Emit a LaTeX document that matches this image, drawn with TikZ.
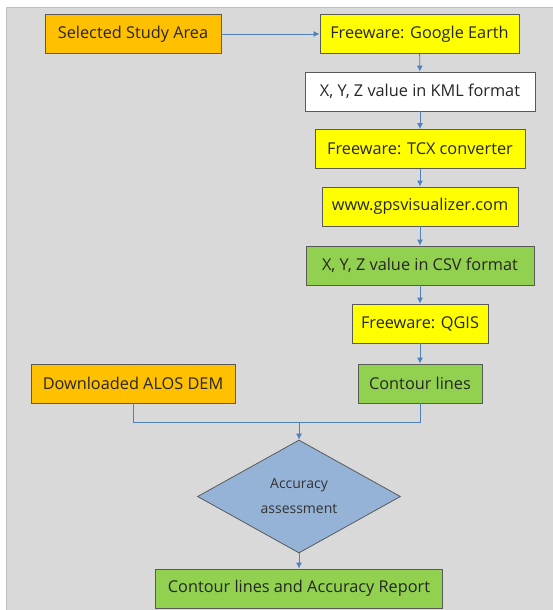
\documentclass[tikz,border=0pt]{standalone}
\usepackage{fontspec}
\setmainfont{Open Sans}
\usepackage{tikz}
\usetikzlibrary{arrows.meta,shapes.geometric}
\definecolor{panelgray}{HTML}{D9D9D9}
\definecolor{panelline}{HTML}{BFBFBF}
\definecolor{boxline}{HTML}{5A5A5A}
\definecolor{srcorange}{HTML}{FFC000}
\definecolor{toolyellow}{HTML}{FFFF00}
\definecolor{outgreen}{HTML}{92D050}
\definecolor{checkblue}{HTML}{95B3D7}
\definecolor{flowblue}{HTML}{4F81BD}
\tikzset{
  box/.style={draw=boxline,line width=0.8pt,align=center,minimum height=39pt,
    inner sep=2pt,text=black!85,font=\fontsize{16.3}{19}\selectfont},
  source/.style={box,fill=srcorange},
  tool/.style={box,fill=toolyellow},
  plain/.style={box,fill=white},
  result/.style={box,fill=outgreen},
  check/.style={diamond,draw=boxline,line width=0.8pt,fill=checkblue,align=center,
    inner sep=0pt,text=black!80,font=\fontsize{14}{25}\selectfont},
  flow/.style={-{Latex[length=6pt,width=6pt]},flowblue,line width=0.9pt}
}
\begin{document}
\begin{tikzpicture}[x=1pt,y=-1pt]
  \useasboundingbox (0,0) rectangle (553,610);
  % Panel
  \draw[panelline,fill=panelgray,line width=1pt] (6,8) rectangle (556,613);
  % Main column
  \node[source,minimum width=176pt] (sel) at (133,34) {Selected Study Area};
  \node[tool,minimum width=199pt] (ge) at (419.5,34) {Freeware: Google Earth};
  \node[plain,minimum width=230pt] (kml) at (420,91.5) {X, Y, Z value in KML format};
  \node[tool,minimum width=210pt] (tcx) at (420,149) {Freeware: TCX converter};
  \node[tool,minimum width=196pt] (gps) at (420,206.5) {www.gpsvisualizer.com};
  \node[result,minimum width=228pt] (csv) at (420,265.5) {X, Y, Z value in CSV format};
  \node[tool,minimum width=136pt] (qgis) at (420,323.5) {Freeware: QGIS};
  \node[result,minimum width=124pt] (cont) at (420,383.5) {Contour lines};
  \node[source,minimum width=204pt] (alos) at (133,383.5) {Downloaded ALOS DEM};
  % Assessment
  \node[check,minimum width=203pt,minimum height=113pt] (acc) at (299,496.5) {Accuracy\\assessment};
  \node[result,minimum width=287pt] (rep) at (299,588.5) {Contour lines and Accuracy Report};
  \coordinate (mrg) at (299,422);
  % Connectors
  \draw[flow] (sel) -- (ge);
  \draw[flow] (ge) -- (kml);
  \draw[flow] (kml) -- (tcx);
  \draw[flow] (tcx) -- (gps);
  \draw[flow] (gps) -- (csv);
  \draw[flow] (csv) -- (qgis);
  \draw[flow] (qgis) -- (cont);
  \draw[flowblue,line width=0.9pt] (alos.south) |- (mrg);
  \draw[flowblue,line width=0.9pt] (cont.south) |- (mrg);
  \draw[flow] (mrg) -- (acc.north);
  \draw[flow] (acc) -- (rep);
\end{tikzpicture}
\end{document}
